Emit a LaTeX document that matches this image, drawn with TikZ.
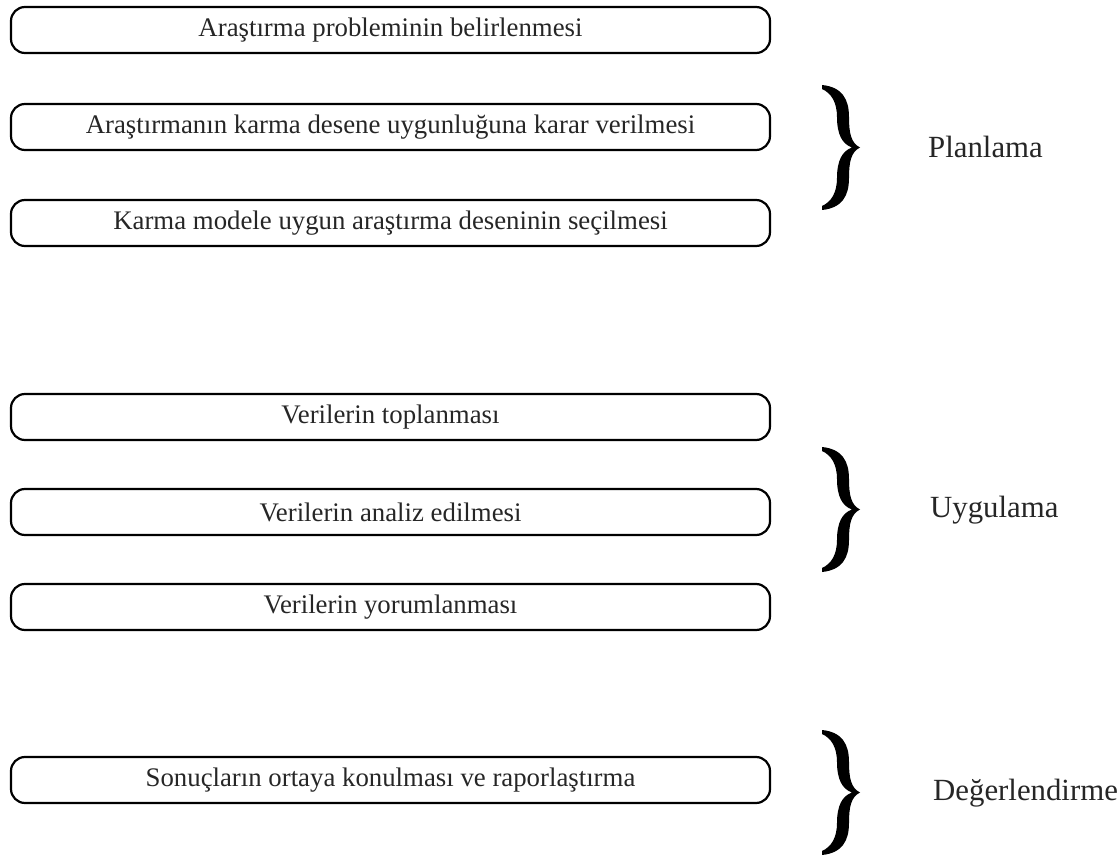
\documentclass[tikz,border=0pt]{standalone}
\usepackage{fontspec}
\setmainfont{Liberation Serif}
\usetikzlibrary{positioning}
\tikzset{
  adim/.style={draw,line width=2.2pt,rounded corners=14pt,minimum width=759pt,minimum height=46pt,
    inner sep=0pt,font=\fontsize{26.8}{30}\selectfont,text=black!85},
  evre/.style={anchor=west,inner sep=0pt,font=\fontsize{30.8}{34}\selectfont,text=black!85},
  kivrik/.pic={
    \fill (0,0) .. controls (20,2) and (27,14) .. (27,32) .. controls (27,48) and (29,58) .. (38,62.5)
      .. controls (29,67) and (27,77) .. (27,93) .. controls (27,111) and (20,123) .. (0,125)
      -- (0,121) .. controls (9,117) and (15,108) .. (15,93) .. controls (15,76) and (20,66) .. (30,62.5)
      .. controls (20,59) and (15,49) .. (15,32) .. controls (15,17) and (9,8) .. (0,4) -- cycle;
  }
}
\begin{document}
\begin{tikzpicture}[x=1pt,y=-1pt]
\useasboundingbox (0,0) rectangle (1120,858);
% planlama
\node[adim] (problem) at (390.5,30) {Araştırma probleminin belirlenmesi};
\node[adim] (uygunluk) at (390.5,127) {Araştırmanın karma desene uygunluğuna karar verilmesi};
\node[adim] (desen) at (390.5,223) {Karma modele uygun araştırma deseninin seçilmesi};
\pic at (822,85) {kivrik};
\node[evre] (planlama) at (928,147) {Planlama};
% uygulama
\node[adim] (toplama) at (390.5,417) {Verilerin toplanması};
\node[adim] (analiz) at (390.5,512) {Verilerin analiz edilmesi};
\node[adim] (yorum) at (390.5,607) {Verilerin yorumlanması};
\pic at (822,447) {kivrik};
\node[evre] (uygulama) at (930,510) {Uygulama};
% degerlendirme
\node[adim] (rapor) at (390.5,780) {Sonuçların ortaya konulması ve raporlaştırma};
\pic at (822,730) {kivrik};
\node[evre] (degerlendirme) at (933,793) {Değerlendirme};
\end{tikzpicture}
\end{document}
